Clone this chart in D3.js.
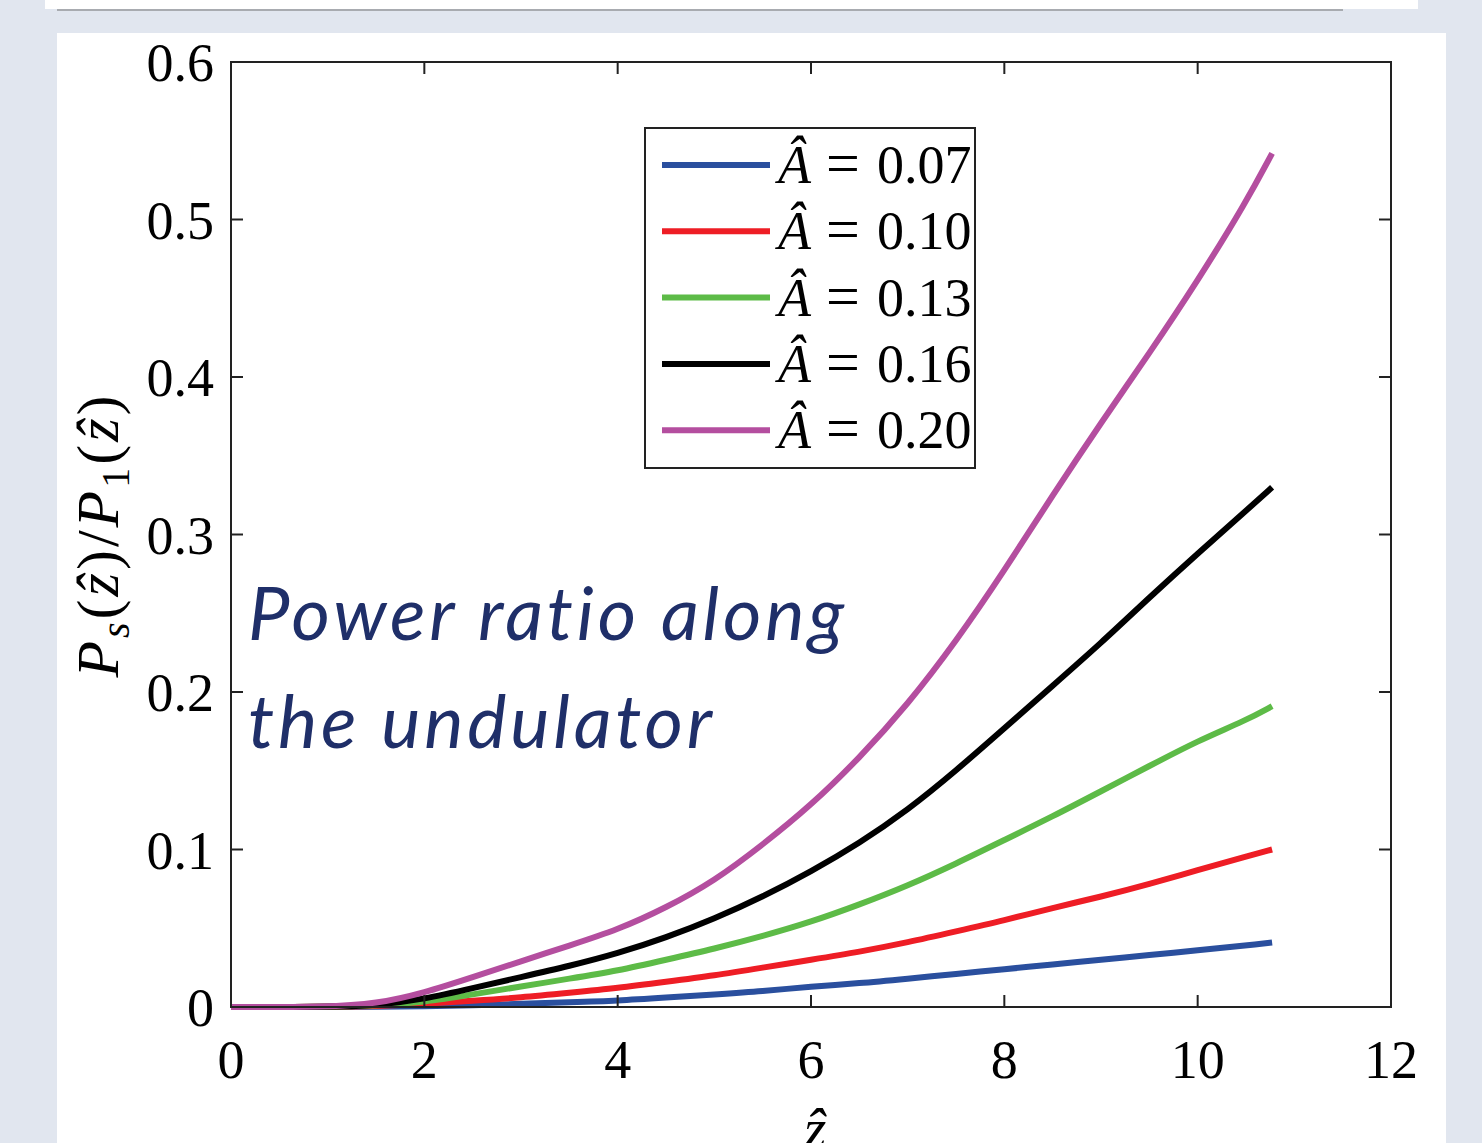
<!DOCTYPE html>
<html><head><meta charset="utf-8">
<script src="https://cdn.jsdelivr.net/npm/d3@7"></script>
<style>
html,body{margin:0;padding:0;background:#e1e6ef;}
svg{display:block;}
</style></head>
<body>
<svg id="c" width="1482" height="1143"></svg>
<script>
const zValues = [0, 1, 1.5, 2, 2.5, 3, 3.5, 4, 4.5, 5, 5.5, 6, 6.5, 7, 7.5, 8, 8.5, 9, 9.5, 10, 10.5, 10.77];
const seriesA007 = [0, 0, 0, 0.0005, 0.001, 0.002, 0.003, 0.004, 0.006, 0.008, 0.010, 0.013, 0.015, 0.018, 0.021, 0.024, 0.027, 0.030, 0.033, 0.036, 0.039, 0.041];
const seriesA010 = [0, 0, 0.0005, 0.002, 0.004, 0.006, 0.009, 0.012, 0.016, 0.020, 0.025, 0.030, 0.035, 0.041, 0.048, 0.055, 0.063, 0.070, 0.078, 0.087, 0.0955, 0.100];
const seriesA013 = [0, 0, 0.001, 0.003, 0.008, 0.013, 0.018, 0.023, 0.030, 0.037, 0.045, 0.054, 0.065, 0.077, 0.091, 0.106, 0.121, 0.137, 0.153, 0.169, 0.182, 0.191];
const seriesA016 = [0, 0, 0.001, 0.005, 0.012, 0.019, 0.026, 0.034, 0.044, 0.056, 0.070, 0.086, 0.104, 0.125, 0.150, 0.177, 0.204, 0.231, 0.260, 0.288, 0.315, 0.330];
const seriesA020 = [0, 0, 0.002, 0.009, 0.019, 0.029, 0.039, 0.049, 0.063, 0.080, 0.103, 0.128, 0.158, 0.192, 0.232, 0.277, 0.325, 0.371, 0.415, 0.461, 0.511, 0.542];
const seriesLabels = ["0.07", "0.10", "0.13", "0.16", "0.20"];
const seriesColors = ["#2a4f9e", "#ee1d25", "#5dbb47", "#000000", "#b44e9f"];
const xTicks = [0, 2, 4, 6, 8, 10, 12];
const yTicks = [0, 0.1, 0.2, 0.3, 0.4, 0.5, 0.6];
const annotationLines = ["Power ratio along", "the undulator"];

const svg = d3.select("#c");
svg.append("rect").attr("x",45).attr("y",0).attr("width",1373).attr("height",9).attr("fill","#ffffff");
svg.append("line").attr("x1",57).attr("x2",1343).attr("y1",10).attr("y2",10).attr("stroke","#a8abb0").attr("stroke-width",2);
svg.append("rect").attr("x",57).attr("y",33).attr("width",1389).attr("height",1110).attr("fill","#ffffff");

const L=231, T=62, W=1160, H=945;
const x = d3.scaleLinear().domain([0,12]).range([L, L+W]);
const y = d3.scaleLinear().domain([0,0.6]).range([T+H, T]);
const serif = "'Liberation Serif','Times New Roman',serif";
const fs = 54;

const all = [seriesA007, seriesA010, seriesA013, seriesA016, seriesA020];
const line = d3.line().x((d,i)=>x(zValues[i])).y(d=>y(d)).curve(d3.curveBasis);
all.forEach((s,k)=>{
  svg.append("path").datum(s).attr("d", line).attr("fill","none")
    .attr("stroke", seriesColors[k]).attr("stroke-width",6).attr("stroke-linecap","butt")
    .attr("stroke-linejoin","round");
});

const g = svg.append("g").attr("stroke","#222").attr("stroke-width",2).attr("fill","none");
g.append("rect").attr("x",L).attr("y",T).attr("width",W).attr("height",H);
const tl = 12;
xTicks.forEach(t=>{
  g.append("line").attr("x1",x(t)).attr("x2",x(t)).attr("y1",T+H).attr("y2",T+H-tl);
  g.append("line").attr("x1",x(t)).attr("x2",x(t)).attr("y1",T).attr("y2",T+tl);
});
yTicks.forEach(t=>{
  g.append("line").attr("x1",L).attr("x2",L+tl).attr("y1",y(t)).attr("y2",y(t));
  g.append("line").attr("x1",L+W).attr("x2",L+W-tl).attr("y1",y(t)).attr("y2",y(t));
});

xTicks.forEach(t=>{
  svg.append("text").attr("x",x(t)).attr("y",T+H+71).attr("text-anchor","middle")
    .attr("font-family",serif).attr("font-size",fs).attr("fill","#000").text(d3.format("d")(t));
});
yTicks.forEach(t=>{
  svg.append("text").attr("x",L-17).attr("y",y(t)+19).attr("text-anchor","end")
    .attr("font-family",serif).attr("font-size",fs).attr("fill","#000").text(t===0?"0":d3.format(".1f")(t));
});

// y axis label
const yl = svg.append("text").attr("transform","translate(118,535) rotate(-90)")
  .attr("text-anchor","middle").attr("font-family",serif).attr("font-size",60).attr("fill","#000")
  .attr("letter-spacing",3);
yl.append("tspan").attr("font-style","italic").text("P");
yl.append("tspan").attr("font-size",40).attr("dy",11).attr("font-style","italic").text("s");
yl.append("tspan").attr("dy",-11).text("(");
yl.append("tspan").attr("font-style","italic").text("ẑ");
yl.append("tspan").text(")/");
yl.append("tspan").attr("font-style","italic").text("P");
yl.append("tspan").attr("font-size",40).attr("dy",11).text("1");
yl.append("tspan").attr("dy",-11).text("(");
yl.append("tspan").attr("font-style","italic").text("ẑ");
yl.append("tspan").text(")");

// x axis label (cut off at the bottom as in the source)
svg.append("text").attr("x",815).attr("y",1148).attr("text-anchor","middle")
  .attr("font-family",serif).attr("font-style","italic").attr("font-size",58).attr("fill","#000").text("ẑ");

// legend
svg.append("rect").attr("x",645).attr("y",128).attr("width",330).attr("height",340)
  .attr("fill","#fff").attr("stroke","#222").attr("stroke-width",2);
seriesLabels.forEach((lab,i)=>{
  const ly = 165 + i*66.3;
  svg.append("line").attr("x1",662).attr("x2",770).attr("y1",ly).attr("y2",ly)
    .attr("stroke",seriesColors[i]).attr("stroke-width",6);
  const t = svg.append("text").attr("y",ly+18).attr("font-family",serif)
    .attr("font-size",54).attr("fill","#000");
  t.append("tspan").attr("x",778).attr("font-style","italic").text("Â");
  t.append("tspan").attr("x",826).attr("font-size",60).text("=");
  t.append("tspan").attr("x",877).text(lab);
});

// annotation
annotationLines.forEach((s,i)=>{
  svg.append("text").attr("x",248).attr("y",640+i*108).attr("font-family","Lato, 'Open Sans', sans-serif")
    .attr("font-style","italic").attr("font-size",74).attr("letter-spacing",3.8)
    .attr("fill","#1f2f69").text(s);
});
</script>
</body></html>
